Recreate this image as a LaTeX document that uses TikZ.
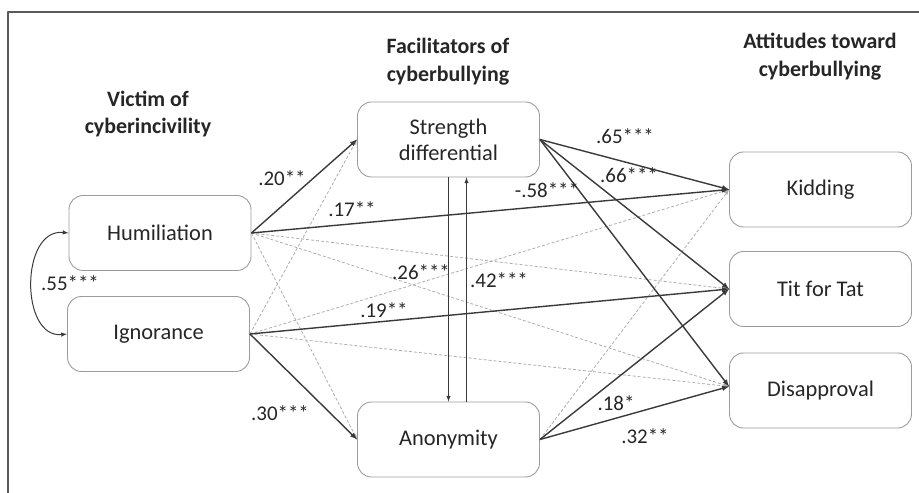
\documentclass[tikz,border=0pt]{standalone}
\usepackage{fontspec}
\setmainfont{Carlito}
\definecolor{pathcol}{HTML}{3A3A3A}
\definecolor{nscol}{HTML}{ADADAD}
\definecolor{boxcol}{HTML}{9C9C9C}
\definecolor{txtcol}{HTML}{262626}
\tikzset{
  factor/.style={draw=boxcol,line width=0.9bp,rounded corners=14bp,minimum width=182bp,minimum height=75bp,align=center,text=txtcol,font=\fontsize{22.5}{26}\selectfont},
  heading/.style={align=center,text=txtcol,font=\bfseries\fontsize{22}{28}\selectfont},
  coef/.style={text=txtcol,inner sep=1bp,font=\fontsize{21}{24}\selectfont},
  sig/.style={pathcol,line width=1.4bp,->},
  nonsig/.style={nscol,line width=0.8bp,dash pattern=on 3bp off 2bp,->},
}
\begin{document}
\begin{tikzpicture}[>=latex,line join=bevel,]
\useasboundingbox (0bp,0bp) rectangle (919bp,493bp);
\draw [black!65,line width=1.2bp] (8bp,0bp) -- (8bp,481bp) -- (919bp,481bp);
%%
\node (head_victim) at (148bp,379bp) [heading] {Victim of\\cyberincivility};
  \node (head_facil) at (448bp,431bp) [heading] {Facilitators of\\cyberbullying};
  \node (head_attit) at (820bp,436bp) [heading] {Attitudes toward\\cyberbullying};
%
\node (node_hum) at (160bp,260bp) [factor] {Humiliation};
  \node (node_ign) at (158.5bp,159bp) [factor] {Ignorance};
  \node (node_str) at (448.5bp,353.5bp) [factor] {Strength\\differential};
  \node (node_ano) at (448.5bp,53.5bp) [factor] {Anonymity};
  \node (node_kid) at (820.5bp,303.5bp) [factor] {Kidding};
  \node (node_tit) at (820.5bp,204bp) [factor] {Tit for Tat};
  \node (node_dis) at (820.5bp,102.5bp) [factor] {Disapproval};
  \coordinate (dis_in) at ([yshift=4bp]node_dis.west);
%
\draw [nonsig] (node_hum.east) -- (node_ano.west);
  \draw [nonsig] (node_hum.east) -- (node_tit.west);
  \draw [nonsig] (node_hum.east) -- (dis_in);
  \draw [nonsig] (node_ign.east) -- (node_str.west);
  \draw [nonsig] (node_ign.east) -- (node_kid.west);
  \draw [nonsig] (node_ign.east) -- (dis_in);
  \draw [nonsig] (node_ano.east) -- (node_kid.west);
%
\draw [sig] (node_hum.east) -- (node_str.west);
  \draw [sig] (node_hum.east) -- (node_kid.west);
  \draw [sig] (node_ign.east) -- (node_tit.west);
  \draw [sig] (node_ign.east) -- (node_ano.west);
  \draw [sig] (node_str.east) -- (node_kid.west);
  \draw [sig] (node_str.east) -- (node_tit.west);
  \draw [sig] (node_str.east) -- (dis_in);
  \draw [sig] (node_ano.east) -- (node_tit.west);
  \draw [sig] (node_ano.east) -- (dis_in);
  \draw [pathcol,line width=1bp,->] (node_str.south) -- (node_ano.north);
  \draw [pathcol,line width=1bp,->] ([xshift=18bp]node_ano.north) -- ([xshift=18bp]node_str.south);
  \draw [pathcol,line width=1bp,<->] (node_hum.west) ..controls (20bp,265bp) and (20bp,154bp)  .. (node_ign.west);
%
\node (coef_hs) at (282bp,315bp) [coef] {.20**};
  \node (coef_hk) at (352bp,284bp) [coef] {.17**};
  \node (coef_sd) at (547bp,303bp) [coef] {-.58***};
  \node (coef_sk) at (625bp,357bp) [coef] {.65***};
  \node (coef_st) at (629bp,318bp) [coef] {.66***};
  \node (coef_sa) at (421bp,221bp) [coef] {.26***};
  \node (coef_as) at (499bp,213bp) [coef] {.42***};
  \node (coef_it) at (384bp,183bp) [coef] {.19**};
  \node (coef_hi) at (70bp,210bp) [coef] {.55***};
  \node (coef_ia) at (280bp,80bp) [coef] {.30***};
  \node (coef_at) at (616bp,90bp) [coef] {.18*};
  \node (coef_ad) at (645bp,57bp) [coef] {.32**};
%
\end{tikzpicture}
\end{document}
